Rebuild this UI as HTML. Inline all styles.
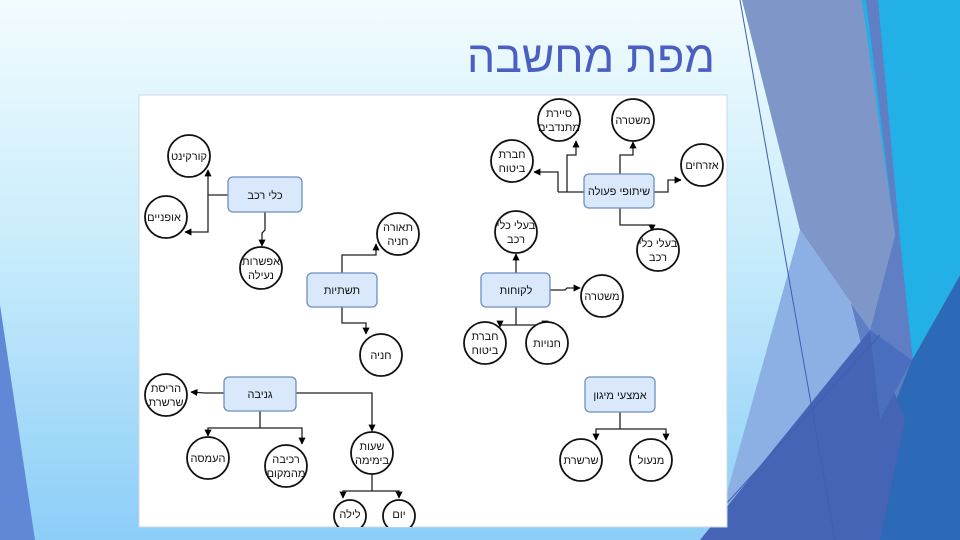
<!DOCTYPE html>
<html><head><meta charset="utf-8">
<style>
html,body{margin:0;padding:0;width:960px;height:540px;overflow:hidden}
svg{display:block}
text{font-family:"Liberation Sans","DejaVu Sans",sans-serif}
</style></head><body>
<svg width="960" height="540" viewBox="0 0 960 540" xmlns="http://www.w3.org/2000/svg">
<defs>
<linearGradient id="bg" x1="0" y1="0" x2="0" y2="1">
<stop offset="0" stop-color="#f2fcfe"/><stop offset="0.5" stop-color="#c4eafb"/><stop offset="1" stop-color="#8ccdf7"/>
</linearGradient>
<marker id="a" viewBox="0 0 10 10" refX="9" refY="5" markerWidth="5.5" markerHeight="5.5" orient="auto-start-reverse">
<path d="M0,0 L10,5 L0,10 z" fill="#000"/></marker>
</defs>
<rect width="960" height="540" fill="url(#bg)"/>
<polygon points="0,305 35,540 0,540" fill="#6188d6"/>
<polygon points="742,0 866,0 895,235 870,330 800,230" fill="#7f96c9"/>
<polygon points="862,0 960,0 960,275 912,360 895,235" fill="#22b0e6"/>
<polygon points="866,0 878,0 900,240 915,380 880,420 850,300 870,330 895,235" fill="#5f7ec4"/>
<polygon points="800,230 870,330 850,300 880,420 840,540 760,540 725,500" fill="#8db0e4"/>
<polygon points="960,275 960,540 840,540 912,360" fill="#2c69b7"/>
<polygon points="700,540 870,330 905,420 880,540" fill="#4664b6"/>
<polygon points="870,330 912,360 880,420" fill="#4a6fc0"/>
<line x1="740" y1="0" x2="835" y2="540" stroke="#3e5fb0" stroke-width="1"/>
<line x1="725" y1="505" x2="880" y2="335" stroke="#3e5fb0" stroke-width="1"/>
<text x="715" y="72" font-size="44" fill="#4a5fc1" text-anchor="end" textLength="248" lengthAdjust="spacingAndGlyphs">מפת מחשבה</text>
<rect x="139" y="95" width="588" height="432" fill="#fff" stroke="#d0d8e0" stroke-width="1"/>
<g fill="none" stroke="#222" stroke-width="1.3">
<polyline points="228,195 208,195 208,170" marker-end="url(#a)"/>
<polyline points="208,195 208,232 185,232" marker-end="url(#a)"/>
<polyline points="265,212 265,230 262,233 262,246" marker-end="url(#a)"/>
<polyline points="342,273 342,255 376,255 376,244" marker-end="url(#a)"/>
<polyline points="342,307 342,323 366,323 366,334" marker-end="url(#a)"/>
<polyline points="224,393 205,393 191,392" marker-end="url(#a)"/>
<polyline points="296,393 372,393 372,431" marker-end="url(#a)"/>
<polyline points="260,411 260,428"/>
<polyline points="260,428 208,428 208,436" marker-end="url(#a)"/>
<polyline points="260,428 302,428 302,444" marker-end="url(#a)"/>
<polyline points="372,474 372,491"/>
<polyline points="372,491 343,491 343,498" marker-end="url(#a)"/>
<polyline points="372,491 399,491 399,498" marker-end="url(#a)"/>
<polyline points="584,192 558,192"/>
<polyline points="567,192 567,155 576,155 576,141" marker-end="url(#a)"/>
<polyline points="558,192 558,172 534,172" marker-end="url(#a)"/>
<polyline points="620,174 620,155 633,155 633,142" marker-end="url(#a)"/>
<polyline points="654,192 668,192 668,180 681,180" marker-end="url(#a)"/>
<polyline points="620,208 620,225 652,225 652,231" marker-end="url(#a)"/>
<polyline points="516,273 516,254" marker-end="url(#a)"/>
<polyline points="550,290 565,290 567,288 580,288" marker-end="url(#a)"/>
<polyline points="516,307 516,325"/>
<polyline points="516,325 500,325 500,327" marker-end="url(#a)"/>
<polyline points="516,325 545,325 545,327" marker-end="url(#a)"/>
<polyline points="620,412 620,429"/>
<polyline points="620,429 596,429 596,440" marker-end="url(#a)"/>
<polyline points="620,429 666,429 666,440" marker-end="url(#a)"/>
</g>
<g fill="#dae8fc" stroke="#6c8ebf" stroke-width="1.3">
<rect x="228" y="177" width="74" height="35" rx="5"/>
<rect x="307" y="273" width="70" height="34" rx="5"/>
<rect x="584" y="174" width="70" height="34" rx="5"/>
<rect x="481" y="273" width="69" height="34" rx="5"/>
<rect x="224" y="377" width="72" height="34" rx="5"/>
<rect x="585" y="377" width="70" height="35" rx="5"/>
</g>
<g font-size="11" fill="#111" text-anchor="middle">
<text x="265" y="199">כלי רכב</text>
<text x="342" y="294">תשתיות</text>
<text x="619" y="195">שיתופי פעולה</text>
<text x="516" y="294">לקוחות</text>
<text x="260" y="398">גניבה</text>
<text x="620" y="399">אמצעי מיגון</text>
</g>
<svg x="139" y="95" width="588" height="432" viewBox="139 95 588 432" overflow="hidden">
<g fill="#fff" stroke="#111" stroke-width="1.8">
<circle cx="189" cy="156" r="21"/>
<circle cx="166" cy="217" r="21"/>
<circle cx="261" cy="268" r="21"/>
<circle cx="398" cy="234" r="21"/>
<circle cx="381" cy="355" r="21"/>
<circle cx="166" cy="395" r="21"/>
<circle cx="208" cy="458" r="21"/>
<circle cx="286" cy="466" r="21"/>
<circle cx="372" cy="453" r="21"/>
<circle cx="350" cy="516" r="16"/>
<circle cx="399" cy="516" r="16"/>
<circle cx="559" cy="120" r="21"/>
<circle cx="633" cy="120" r="21"/>
<circle cx="512" cy="161" r="21"/>
<circle cx="702" cy="165" r="21"/>
<circle cx="658" cy="250" r="21"/>
<circle cx="516" cy="232" r="21"/>
<circle cx="602" cy="296" r="21"/>
<circle cx="485" cy="343" r="21"/>
<circle cx="547" cy="343" r="21"/>
<circle cx="581" cy="460" r="21"/>
<circle cx="651" cy="460" r="21"/>
</g>
<g font-size="11" fill="#111" text-anchor="middle">
<text x="189" y="160">קורקינט</text>
<text x="164" y="221">אופניים</text>
<text x="261" y="265">אפשרות</text><text x="261" y="279">נעילה</text>
<text x="398" y="231">תאורה</text><text x="398" y="245">חניה</text>
<text x="381" y="359">חניה</text>
<text x="166" y="392">הריסת</text><text x="166" y="406">שרשרת</text>
<text x="208" y="462">העמסה</text>
<text x="286" y="463">רכיבה</text><text x="286" y="477">מהמקום</text>
<text x="372" y="450">שעות</text><text x="372" y="464">בימימה</text>
<text x="350" y="518">לילה</text>
<text x="399" y="518">יום</text>
<text x="559" y="117">סיירת</text><text x="559" y="131">מתנדבים</text>
<text x="633" y="124">משטרה</text>
<text x="512" y="158">חברת</text><text x="512" y="172">ביטוח</text>
<text x="702" y="169">אזרחים</text>
<text x="658" y="247">בעלי כלי</text><text x="658" y="261">רכב</text>
<text x="516" y="229">בעלי כלי</text><text x="516" y="243">רכב</text>
<text x="602" y="300">משטרה</text>
<text x="485" y="340">חברת</text><text x="485" y="354">ביטוח</text>
<text x="547" y="347">חנויות</text>
<text x="581" y="464">שרשרת</text>
<text x="651" y="464">מנעול</text>
</g>
</svg>
</svg>
</body></html>
